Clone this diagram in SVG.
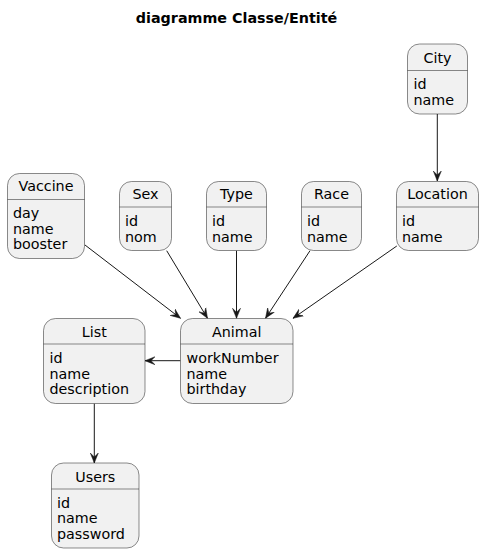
<svg xmlns="http://www.w3.org/2000/svg" width="484" height="553" viewBox="0 0 484 553">
<style>
  .box { fill: #F1F1F1; stroke: #181818; stroke-width: 0.5; }
  .div { stroke: #181818; stroke-width: 0.5; }
  .t { font-family: "DejaVu Sans", sans-serif; font-size: 14.3px; fill: #000000; }
  .c { text-anchor: middle; }
  .title { font-family: "DejaVu Sans", sans-serif; font-size: 14.3px; font-weight: bold; text-anchor: middle; fill: #000000; }
  .edge { stroke: #181818; stroke-width: 1; fill: none; marker-end: url(#arr); }
</style>
<defs>
  <marker id="arr" markerUnits="userSpaceOnUse" markerWidth="12" markerHeight="10" refX="10" refY="5" orient="auto" viewBox="0 0 12 10">
    <path d="M0,1 L10,5 L0,9 L4,5 Z" fill="#181818" stroke="#181818" stroke-width="0.5"/>
  </marker>
</defs>
<rect width="484" height="553" fill="#FFFFFF"/>
<text class="title" x="236.5" y="22.5">diagramme Classe/Entité</text>

<g id="connectors">
  <line class="edge" x1="437.3" y1="114" x2="437.3" y2="181"/>
  <line class="edge" x1="85" y1="245" x2="180.5" y2="318.3"/>
  <line class="edge" x1="166.7" y1="250.7" x2="207.5" y2="318.3"/>
  <line class="edge" x1="236.5" y1="250.7" x2="236.5" y2="318.3"/>
  <line class="edge" x1="310" y1="250.7" x2="265.5" y2="318.3"/>
  <line class="edge" x1="396.8" y1="246" x2="293" y2="318.3"/>
  <line class="edge" x1="180.5" y1="360.7" x2="145" y2="360.7"/>
  <line class="edge" x1="94.3" y1="403.5" x2="94.3" y2="463"/>
</g>

<g id="City">
  <rect class="box" x="407.5" y="44" width="60" height="70" rx="12"/>
  <line class="div" x1="407.5" y1="70.5" x2="467.5" y2="70.5"/>
  <text class="t c" x="437.5" y="62.5">City</text>
  <text class="t" x="413.5" y="89">id</text>
  <text class="t" x="413.5" y="104.5">name</text>
</g>

<g id="Vaccine">
  <rect class="box" x="7.5" y="173.5" width="77" height="85" rx="12"/>
  <line class="div" x1="7.5" y1="199.5" x2="84.5" y2="199.5"/>
  <text class="t c" x="46" y="191">Vaccine</text>
  <text class="t" x="13" y="218">day</text>
  <text class="t" x="13" y="233.5">name</text>
  <text class="t" x="13" y="249">booster</text>
</g>

<g id="Sex">
  <rect class="box" x="119.5" y="181.5" width="52" height="69" rx="12"/>
  <line class="div" x1="119.5" y1="207" x2="171.5" y2="207"/>
  <text class="t c" x="145.5" y="199">Sex</text>
  <text class="t" x="125" y="226">id</text>
  <text class="t" x="125" y="241.5">nom</text>
</g>

<g id="Type">
  <rect class="box" x="206.5" y="181.5" width="60" height="69" rx="12"/>
  <line class="div" x1="206.5" y1="207" x2="266.5" y2="207"/>
  <text class="t c" x="236.5" y="199">Type</text>
  <text class="t" x="212" y="226">id</text>
  <text class="t" x="212" y="241.5">name</text>
</g>

<g id="Race">
  <rect class="box" x="301.5" y="181.5" width="60" height="69" rx="12"/>
  <line class="div" x1="301.5" y1="207" x2="361.5" y2="207"/>
  <text class="t c" x="331.5" y="199">Race</text>
  <text class="t" x="307" y="226">id</text>
  <text class="t" x="307" y="241.5">name</text>
</g>

<g id="Location">
  <rect class="box" x="396.5" y="181.5" width="82" height="69" rx="12"/>
  <line class="div" x1="396.5" y1="207" x2="478.5" y2="207"/>
  <text class="t c" x="437.5" y="199">Location</text>
  <text class="t" x="402" y="226">id</text>
  <text class="t" x="402" y="241.5">name</text>
</g>

<g id="Animal">
  <rect class="box" x="180.5" y="318.5" width="112.5" height="85" rx="12"/>
  <line class="div" x1="180.5" y1="344" x2="293" y2="344"/>
  <text class="t c" x="236.75" y="336.5">Animal</text>
  <text class="t" x="186.5" y="363">workNumber</text>
  <text class="t" x="186.5" y="378.5">name</text>
  <text class="t" x="186.5" y="394">birthday</text>
</g>

<g id="List">
  <rect class="box" x="43.5" y="318.5" width="101.5" height="85" rx="12"/>
  <line class="div" x1="43.5" y1="344" x2="145" y2="344"/>
  <text class="t c" x="94.25" y="336.5">List</text>
  <text class="t" x="49.5" y="363">id</text>
  <text class="t" x="49.5" y="378.5">name</text>
  <text class="t" x="49.5" y="394">description</text>
</g>

<g id="Users">
  <rect class="box" x="51.5" y="463" width="87.5" height="85" rx="12"/>
  <line class="div" x1="51.5" y1="489" x2="139" y2="489"/>
  <text class="t c" x="95.25" y="481.5">Users</text>
  <text class="t" x="57" y="507.5">id</text>
  <text class="t" x="57" y="523">name</text>
  <text class="t" x="57" y="538.5">password</text>
</g>
</svg>
